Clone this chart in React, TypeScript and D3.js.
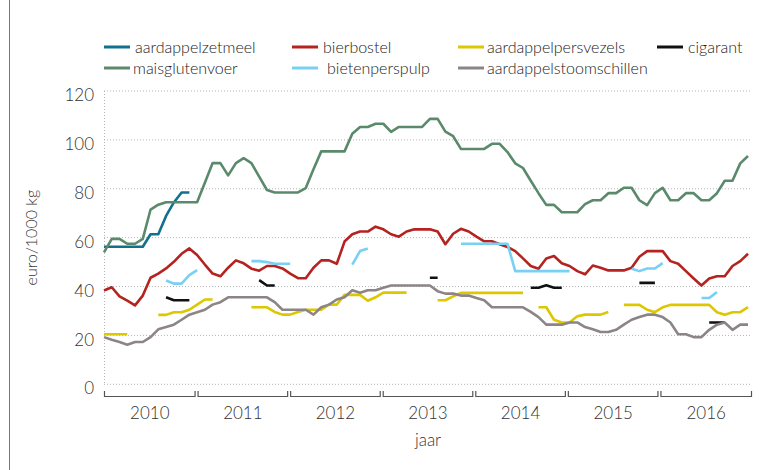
import React, { useEffect, useRef } from "react";
import * as d3 from "d3";

const years = ["2010", "2011", "2012", "2013", "2014", "2015", "2016"];
const yTicks = [0, 20, 40, 60, 80, 100, 120];

const _ = null;

const aardappelzetmeel = [
  56.3, 56.3, 56.3, 56.3, 56.3, 56.3, 61.4, 61.4, 68.9, 74.4, 78.5, 78.5,
  _, _, _, _, _, _, _, _, _, _, _, _,
  _, _, _, _, _, _, _, _, _, _, _, _,
  _, _, _, _, _, _, _, _, _, _, _, _,
  _, _, _, _, _, _, _, _, _, _, _, _,
  _, _, _, _, _, _, _, _, _, _, _, _,
  _, _, _, _, _, _, _, _, _, _, _, _,
];

const bierbostel = [
  38.4, 39.7, 36, 34.2, 32.3, 36.3, 43.6, 45.3, 47.4, 50.1, 53.4, 55.6,
  52.9, 49, 45.3, 44.2, 47.7, 50.7, 49.5, 47.3, 46.5, 48.4, 48.4, 47.4,
  45.3, 43.4, 43.4, 47.7, 50.7, 50.7, 49.3, 58.4, 61.4, 62.5, 62.5, 64.5,
  63.4, 61.4, 60.4, 62.5, 63.4, 63.4, 63.4, 62.5, 57.3, 61.6, 63.6, 62.5,
  60.4, 58.5, 58.5, 57.3, 56.2, 54.5, 51.5, 48.4, 47.3, 51.5, 52.5, 49.5,
  48.4, 46.3, 45, 48.6, 47.7, 46.6, 46.6, 46.6, 47.7, 52.2, 54.5, 54.5,
  54.5, 50.4, 49.3, 46.3, 43.3, 40.4, 43.3, 44.2, 44.2, 48.4, 50.4, 53.4,
];

const aardappelpersvezels = [
  20.5, 20.5, 20.5, 20.5, _, _, _, 28.4, 28.4, 29.5, 29.5, 30.5,
  32.6, 34.7, 34.7, _, _, _, _, 31.5, 31.5, 31.5, 29.6, 28.5,
  28.5, 29.6, 30.5, 30.5, 30.5, 32.6, 32.6, 36.6, 36.6, 36.6, 34.2, 35.6,
  37.5, 37.5, 37.5, 37.5, _, _, _, 34.4, 34.4, 36, 37.4, 37.4,
  37.4, 37.4, 37.4, 37.4, 37.4, 37.4, 37.4, _, 31.5, 31.5, 26.4, 25.3,
  25.3, 27.8, 28.5, 28.5, 28.5, 29.6, _, 32.5, 32.5, 32.5, 30.5, 29.5,
  31.5, 32.5, 32.5, 32.5, 32.5, 32.5, 32.5, 29.5, 28.5, 29.5, 29.5, 31.6,
];

const cigarant = [
  _, _, _, _, _, _, _, _, 35.6, 34.4, 34.4, 34.4,
  _, _, _, _, _, _, _, _, 42.6, 40.4, 40.4, _,
  _, _, _, _, _, _, _, _, _, _, _, _,
  _, _, _, _, _, _, 43.6, 43.6, _, _, _, _,
  _, _, _, _, _, _, _, 39.5, 39.5, 40.5, 39.5, 39.5,
  _, _, _, _, _, _, _, _, _, 41.5, 41.5, 41.5,
  _, _, _, _, _, _, 25.3, 25.3, 25.3, _, _, _,
];

const maisglutenvoer = [
  54, 59.5, 59.5, 57.5, 57.5, 59.5, 71.5, 73.5, 74.5, 74.5, 74.5, 74.5,
  74.5, 82.5, 90.5, 90.5, 85.5, 90.5, 92.5, 90.5, 85, 79.5, 78.5, 78.5,
  78.5, 78.5, 80.3, 88, 95.3, 95.3, 95.3, 95.3, 102.5, 105.3, 105.3, 106.6,
  106.6, 103.3, 105.3, 105.3, 105.3, 105.3, 108.6, 108.6, 103.4, 101.5, 96.3, 96.3,
  96.3, 96.3, 98.4, 98.4, 95, 90.4, 88.5, 83.3, 78.2, 73.4, 73.4, 70.4,
  70.4, 70.4, 73.7, 75.3, 75.3, 78.2, 78.2, 80.4, 80.4, 75.3, 73.3, 78.2,
  80.4, 75.3, 75.3, 78.2, 78.2, 75.3, 75.3, 78.2, 83.3, 83.3, 90.4, 93.4,
];

const bietenperspulp = [
  _, _, _, _, _, _, _, _, 42.5, 41.2, 41.2, 44.7,
  46.7, _, _, _, _, _, _, 50.4, 50.4, 50, 49.3, 49.3,
  49.3, _, _, _, _, _, _, _, 49, 54.5, 55.6, _,
  _, _, _, _, _, _, _, _, _, _, 57.5, 57.5,
  57.5, 57.5, 57.5, 57.5, 57.5, 46.3, 46.3, 46.3, 46.3, 46.3, 46.3, 46.3,
  46.3, _, _, _, _, _, _, _, 47.3, 46.3, 47.4, 47.4,
  49.6, _, _, _, _, 35.3, 35.3, 37.7, _, _, _, _,
];

const aardappelstoomschillen = [
  19.3, 18.2, 17.3, 16.2, 17.3, 17.3, 19.3, 22.5, 23.4, 24.4, 26.4, 28.5,
  29.5, 30.5, 32.6, 33.6, 35.6, 35.6, 35.6, 35.6, 35.6, 35.6, 33.6, 30.5,
  30.5, 30.5, 30.5, 28.5, 31.5, 32.6, 34.7, 35.6, 38.5, 37.5, 38.5, 38.5,
  39.5, 40.4, 40.4, 40.4, 40.4, 40.4, 40.4, 38.1, 37.1, 37.1, 36.3, 36.3,
  35.3, 34.4, 31.5, 31.5, 31.5, 31.5, 31.5, 29.6, 27.5, 24.4, 24.4, 24.4,
  25.3, 25.3, 23.4, 22.5, 21.4, 21.4, 22.3, 24.4, 26.4, 27.5, 28.5, 28.5,
  27.5, 25.3, 20.5, 20.5, 19.3, 19.3, 22.3, 24.4, 25.3, 22.3, 24.4, 24.4,
];

// series in the order they are drawn / listed in the legend
const series = [
  { name: "aardappelzetmeel", color: "#10708f", values: aardappelzetmeel },
  { name: "bierbostel", color: "#b42320", values: bierbostel },
  { name: "aardappelpersvezels", color: "#dcc700", values: aardappelpersvezels },
  { name: "cigarant", color: "#111111", values: cigarant },
  { name: "maisglutenvoer", color: "#5a8a6b", values: maisglutenvoer },
  { name: "bietenperspulp", color: "#78d0f4", values: bietenperspulp },
  { name: "aardappelstoomschillen", color: "#8c8485", values: aardappelstoomschillen },
];

const legendPos = [
  { x: 104, y: 47, tx: 135 },
  { x: 292, y: 47, tx: 323 },
  { x: 458, y: 47, tx: 487 },
  { x: 657, y: 47, tx: 688 },
  { x: 104, y: 68, tx: 133 },
  { x: 292, y: 68, tx: 327 },
  { x: 458, y: 68, tx: 487 },
];

const FONT = "Lato, 'Open Sans', sans-serif";

const App = () => {
  const svgRef = useRef<SVGSVGElement>(null);

  useEffect(() => {
    const width = 772,
      height = 470;
    const svg = d3.select(svgRef.current).attr("width", width).attr("height", height);
    svg.selectAll("*").remove();

    const n = years.length * 12;
    const x = d3.scaleLinear().domain([0, n - 1]).range([104, 748]);
    const xYear = d3.scaleLinear().domain([0, years.length]).range([104, 752]);
    const y = d3.scaleLinear().domain([0, 120]).range([384.3, 91]);

    // frame line on the left
    svg
      .append("line")
      .attr("x1", 9.5)
      .attr("x2", 9.5)
      .attr("y1", 0)
      .attr("y2", height)
      .attr("stroke", "#777")
      .attr("stroke-width", 1);

    // gridlines
    svg
      .append("g")
      .selectAll("line")
      .data(yTicks)
      .enter()
      .append("line")
      .attr("x1", 104)
      .attr("x2", 752)
      .attr("y1", (d) => y(d))
      .attr("y2", (d) => y(d))
      .attr("stroke", "#b5b5b5")
      .attr("stroke-width", 1)
      .attr("stroke-dasharray", "1,2");

    svg
      .append("line")
      .attr("x1", 104.5)
      .attr("x2", 104.5)
      .attr("y1", y(120))
      .attr("y2", y(0))
      .attr("stroke", "#b5b5b5")
      .attr("stroke-dasharray", "1,2");

    // y tick labels (sit a little below their gridline, as in the source)
    svg
      .append("g")
      .selectAll("text")
      .data(yTicks)
      .enter()
      .append("text")
      .attr("x", 94)
      .attr("y", (d) => y(d) + 4)
      .attr("dy", "0.36em")
      .attr("text-anchor", "end")
      .attr("font-family", FONT)
      .attr("font-weight", 300)
      .attr("font-size", 17)
      .attr("fill", "#333")
      .text((d) => d);

    svg
      .append("text")
      .attr("transform", `translate(31,${y(60)}) rotate(-90)`)
      .attr("text-anchor", "middle")
      .attr("dy", "0.36em")
      .attr("font-family", FONT)
      .attr("font-weight", 300)
      .attr("font-size", 16)
      .attr("fill", "#333")
      .text("euro/1000 kg");

    // year brackets along the bottom
    const axisY = 396;
    const yearG = svg.append("g");
    years.forEach((yr, k) => {
      const x0 = xYear(k) + (k === 0 ? 0 : 1);
      const x1 = xYear(k + 1) - (k === years.length - 1 ? 0 : 1);
      yearG
        .append("path")
        .attr("d", `M${x0 + 0.5},${axisY - 5}V${axisY + 0.5}H${x1 - 0.5}V${axisY - 5}`)
        .attr("fill", "none")
        .attr("stroke", "#555")
        .attr("stroke-width", 1.2);
      yearG
        .append("text")
        .attr("x", (x0 + x1) / 2)
        .attr("y", 419)
        .attr("text-anchor", "middle")
        .attr("font-family", FONT)
        .attr("font-weight", 300)
        .attr("font-size", 17)
        .attr("fill", "#333")
        .text(yr);
    });

    svg
      .append("text")
      .attr("x", (xYear(0) + xYear(years.length)) / 2)
      .attr("y", 446)
      .attr("text-anchor", "middle")
      .attr("font-family", FONT)
      .attr("font-weight", 300)
      .attr("font-size", 17)
      .attr("fill", "#333")
      .text("jaar");

    // lines
    const line = d3
      .line<number | null>()
      .defined((d) => d != null)
      .x((d, i) => x(i))
      .y((d) => y(d as number));

    svg
      .append("g")
      .selectAll("path")
      .data(series)
      .enter()
      .append("path")
      .attr("d", (s) => line(s.values))
      .attr("fill", "none")
      .attr("stroke", (s) => s.color)
      .attr("stroke-width", 2.6)
      .attr("stroke-linejoin", "round");

    // legend
    const leg = svg
      .append("g")
      .selectAll("g")
      .data(series)
      .enter()
      .append("g");
    leg
      .append("line")
      .attr("x1", (d, i) => legendPos[i].x)
      .attr("x2", (d, i) => legendPos[i].x + 26)
      .attr("y1", (d, i) => legendPos[i].y)
      .attr("y2", (d, i) => legendPos[i].y)
      .attr("stroke", (d) => d.color)
      .attr("stroke-width", 3);
    leg
      .append("text")
      .attr("x", (d, i) => legendPos[i].tx)
      .attr("y", (d, i) => legendPos[i].y)
      .attr("dy", "0.36em")
      .attr("font-family", FONT)
      .attr("font-weight", 300)
      .attr("font-size", 16)
      .attr("fill", "#222")
      .text((d) => d.name);
  }, []);

  return <svg ref={svgRef} style={{ position: "absolute", left: 0, top: 0 }}></svg>;
};

export default App;
